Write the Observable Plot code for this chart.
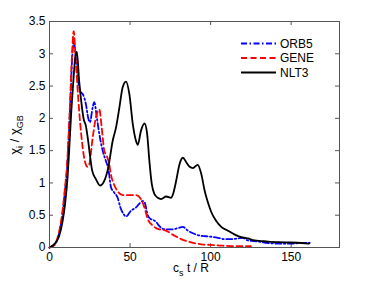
<!DOCTYPE html>
<html><head><meta charset="utf-8">
<script src="https://cdn.jsdelivr.net/npm/d3@7"></script>
<script src="https://cdn.jsdelivr.net/npm/@observablehq/plot@0.6"></script>
<style>html,body{margin:0;padding:0;background:#fff;} svg{display:block}</style>
</head><body><div id="chart"></div>
<script>
const seriesNames = ["ORB5", "GENE", "NLT3"];

const orb5T = [0,2,4,6,8,9.5,11,12,13,14,15,16.4,17.8,19.5,20.5,22.6,24,25.1,26.8,27.8,29.4,30.9,33,35,36.5,38.2,40.2,42.3,44,45.9,47.5,50.6,53.7,55.8,57.9,59,61,62.7,64,66,68.2,70.3,73.4,76,79.7,82.8,85.9,89,94.2,99.4,104.6,108.7,112.8,117,120,123,127,135.7,142,150,156,161.5];
const orb5V = [0,0.02,0.07,0.22,0.5,0.85,1.25,1.75,2.3,2.9,3.2,2.92,2.58,2.4,2.38,2.22,2.01,1.94,2.17,2.25,2.01,1.76,1.5,1.34,1.22,0.93,0.85,0.77,0.62,0.52,0.48,0.57,0.62,0.68,0.72,0.7,0.5,0.44,0.43,0.4,0.33,0.29,0.28,0.28,0.3,0.32,0.26,0.22,0.18,0.17,0.15,0.13,0.13,0.14,0.15,0.11,0.1,0.07,0.06,0.06,0.07,0.07];

const geneT = [0,2,4,6,8,9.5,10.8,12,13,14,15,16.4,18.4,19.9,21.5,23.6,24.5,26.8,28.8,30.9,32.4,34,35.5,37,38.2,40,42.3,45.4,50.6,53.7,56.8,58.9,61,64.1,68.2,71.3,76.5,81.7,87.9,94.2,100,106,115,125];
const geneV = [0,0.02,0.08,0.25,0.55,0.9,1.25,1.8,2.4,3.0,3.35,2.85,2.12,1.7,1.39,1.25,1.27,1.7,2.01,2.14,1.86,1.5,1.42,1.3,1.12,0.98,0.87,0.81,0.81,0.81,0.75,0.62,0.44,0.34,0.28,0.27,0.2,0.13,0.08,0.05,0.04,0.03,0.02,0.02];

const nlt3T = [0,2,4,6,8,9.7,11.2,12.2,13.5,15,16,17,18.4,19.9,21.2,22.6,24,25.3,26.5,28.8,31.5,34,36.5,39.2,41.3,43.4,45.4,47.5,49.6,51.7,53.7,54.8,56.8,59,60.6,62,63.5,65.1,67.2,69.3,72.4,75.5,76.6,78.6,80.7,82.8,84.9,87,89,92,94.2,96.3,98.3,100.4,103.5,106.6,110.8,115,119,123,127.3,131.5,135.7,146,156.4,161];
const nlt3V = [0,0.03,0.08,0.18,0.39,0.68,1.08,1.5,2.1,2.65,2.95,3.03,2.58,2.22,1.99,1.88,1.65,1.39,1.19,1.06,0.96,1.03,1.24,1.65,1.86,2.17,2.48,2.57,2.37,1.91,1.65,1.59,1.81,1.92,1.76,1.34,0.98,0.83,0.77,0.75,0.79,0.77,0.82,1.03,1.29,1.39,1.32,1.25,1.23,1.28,1.14,0.88,0.7,0.55,0.41,0.32,0.26,0.2,0.16,0.14,0.11,0.1,0.09,0.08,0.07,0.06];

const xTicks = [0, 50, 100, 150];
const yTicks = [0, 0.5, 1, 1.5, 2, 2.5, 3, 3.5];

const W = 374, H = 281, mL = 49, mR = 35, mT = 21, mB = 34;
const fw = W - mL - mR, fh = H - mT - mB;
const FONT = "'Liberation Sans', Arial, Helvetica, sans-serif";

function rows(name, T, V) { return T.map((t, i) => ({series: name, t, v: V[i]})); }
const data = [
  ...rows("ORB5", orb5T, orb5V),
  ...rows("GENE", geneT, geneV),
  ...rows("NLT3", nlt3T, nlt3V)
];
const colors = {ORB5: "#0000ff", GENE: "#ff0000", NLT3: "#000000"};
const dashes = {ORB5: "6,2.5,1.5,2.5", GENE: "6,3.5", NLT3: null};

const svg = Plot.plot({
  width: W, height: H,
  marginLeft: mL, marginRight: mR, marginTop: mT, marginBottom: mB,
  style: {fontFamily: FONT, fontSize: "12px", background: "#fff", color: "#000"},
  x: {domain: [0, 180]},
  y: {domain: [0, 3.5]},
  marks: [
    Plot.ruleX(xTicks, {x: d => d, insetTop: fh - 4, stroke: "#555"}),
    Plot.ruleX(xTicks, {x: d => d, insetBottom: fh - 4, stroke: "#555"}),
    Plot.ruleY(yTicks, {y: d => d, insetRight: fw - 4, stroke: "#555"}),
    Plot.ruleY(yTicks, {y: d => d, insetLeft: fw - 4, stroke: "#555"}),
    ...seriesNames.map(s => Plot.line(data.filter(d => d.series === s), {
      x: "t", y: "v", stroke: colors[s], strokeWidth: 1.8,
      strokeDasharray: dashes[s], curve: "monotone-x"
    })),
    Plot.frame({stroke: "#555"}),
    Plot.axisX({ticks: xTicks, tickSize: 0, tickPadding: 5, tickFormat: d => String(d), label: null}),
    Plot.axisY({ticks: yTicks, tickSize: 0, tickPadding: 4, tickFormat: d => String(d), label: null})
  ]
});
document.getElementById("chart").appendChild(svg);

const g = d3.select(svg).append("g").attr("font-family", FONT).attr("fill", "#000");

// x label
const xl = g.append("text").attr("x", mL + fw / 2 - 3).attr("y", 272).attr("text-anchor", "middle").attr("font-size", 12);
xl.append("tspan").text("c");
xl.append("tspan").attr("dy", 3.5).attr("font-size", 9).text("s");
xl.append("tspan").attr("dy", -3.5).text(" t / R");

// y label
const yl = g.append("text").attr("transform", `translate(19,${mT + fh / 2 + 1}) rotate(-90)`).attr("text-anchor", "middle").attr("font-size", 13);
yl.append("tspan").text("χ");
yl.append("tspan").attr("dy", 3.5).attr("font-size", 9).text("i");
yl.append("tspan").attr("dy", -3.5).text(" / χ");
yl.append("tspan").attr("dy", 3.5).attr("font-size", 9).text("GB");

// legend
const legY = [43.5, 58, 72.5];
seriesNames.forEach((s, i) => {
  g.append("line").attr("x1", 241).attr("x2", 276).attr("y1", legY[i]).attr("y2", legY[i])
    .attr("stroke", colors[s]).attr("stroke-width", 1.8)
    .attr("stroke-dasharray", dashes[s]);
  g.append("text").attr("x", 280).attr("y", legY[i]).attr("dy", "0.36em")
    .attr("text-anchor", "start").attr("font-size", 12).text(s);
});
</script>
</body></html>
